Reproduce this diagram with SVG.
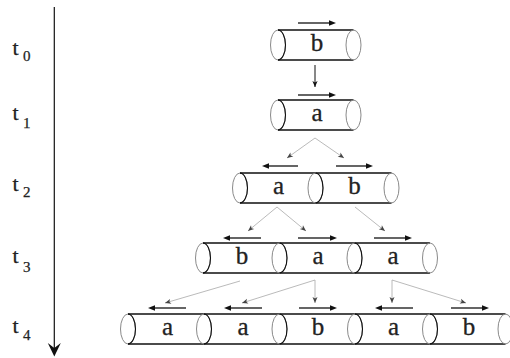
<svg xmlns="http://www.w3.org/2000/svg" width="510" height="358" viewBox="0 0 510 358">
<style>
.eg{fill:none;stroke:#8a8a8a;stroke-width:1}
.ek{fill:none;stroke:#111;stroke-width:1.1}
.body{fill:none;stroke:#111;stroke-width:1.3}
.dir{fill:none;stroke:#111;stroke-width:1.3;marker-end:url(#ba)}
.con{fill:none;stroke:#a8a8a8;stroke-width:0.8;marker-end:url(#ga)}
</style>
<defs>
<marker id="ba" viewBox="0 -3 8 6" refX="0" refY="0" markerWidth="8" markerHeight="6" markerUnits="userSpaceOnUse" orient="auto">
<path d="M0,-2.8 L7,0 L0,2.8 Z" fill="#111"/>
</marker>
<marker id="ga" viewBox="-7 -3 8 6" refX="0" refY="0" markerWidth="8" markerHeight="6" markerUnits="userSpaceOnUse" orient="auto">
<path d="M0,0 L-6,-2.5 L-4.5,0 L-6,2.5 Z" fill="#444"/>
</marker>
<marker id="ka" viewBox="-7 -3 8 6" refX="0" refY="0" markerWidth="8" markerHeight="6" markerUnits="userSpaceOnUse" orient="auto">
<path d="M0,0 L-6,-2.6 L-4.5,0 L-6,2.6 Z" fill="#111"/>
</marker>
</defs>

<g id="time-axis" font-family="'Liberation Serif', 'Times New Roman', serif" fill="#222" stroke="#222" stroke-width="0.25">
<line x1="54.3" y1="7" x2="54.3" y2="348" stroke="#111" stroke-width="1.2"/>
<path d="M54.3,356.5 L47.8,343 L54.3,348 L60.8,343 Z" fill="#111" stroke="none"/>
<text font-size="22" x="12.5" y="55">t</text><text font-size="15" x="23" y="60.5">0</text>
<text font-size="22" x="12.5" y="120">t</text><text font-size="15" x="23" y="128">1</text>
<text font-size="22" x="12.5" y="190.5">t</text><text font-size="15" x="23" y="197">2</text>
<text font-size="22" x="12.5" y="263">t</text><text font-size="15" x="23" y="272">3</text>
<text font-size="22" x="12.5" y="333">t</text><text font-size="15" x="23" y="340">4</text>
</g>

<g font-family="'Liberation Serif', 'Times New Roman', serif" font-size="25" fill="#222" text-anchor="middle">
<!-- row 0 -->
<g id="n0-b">
<ellipse class="eg" cx="278" cy="45" rx="7.5" ry="15"/>
<path class="ek" d="M278,30 A7.5,15 0 0 1 278,60"/>
<path class="body" d="M278,30 H353.5 M278,60 H353.5"/>
<ellipse class="eg" cx="353.5" cy="45" rx="7.5" ry="15"/>
<path class="dir" d="M298,23 H329"/>
<text x="317" y="51" stroke="#222" stroke-width="0.3">b</text>
</g>

<!-- row 1 -->
<g id="n1-a">
<ellipse class="eg" cx="278" cy="115" rx="7.5" ry="15"/>
<path class="ek" d="M278,100 A7.5,15 0 0 1 278,130"/>
<path class="body" d="M278,100 H353.5 M278,130 H353.5"/>
<ellipse class="eg" cx="353.5" cy="115" rx="7.5" ry="15"/>
<path class="dir" d="M298,95 H329"/>
<text x="317" y="121" stroke="#222" stroke-width="0.3">a</text>
</g>

<!-- row 2 -->
<g id="n2-a">
<ellipse class="eg" cx="240" cy="188" rx="7.5" ry="15"/>
<path class="ek" d="M240,173 A7.5,15 0 0 1 240,203"/>
<path class="body" d="M240,173 H315.5 M240,203 H315.5"/>
<path class="dir" d="M298,166 H269"/>
<text x="278.5" y="194" stroke="#222" stroke-width="0.3">a</text>
</g>
<g id="n2-b">
<ellipse class="eg" cx="315.5" cy="188" rx="7.5" ry="15"/>
<path class="ek" d="M315.5,173 A7.5,15 0 0 1 315.5,203"/>
<path class="body" d="M315.5,173 H391.5 M315.5,203 H391.5"/>
<ellipse class="eg" cx="391.5" cy="188" rx="7.5" ry="15"/>
<path class="dir" d="M336,166 H366"/>
<text x="354.5" y="194" stroke="#222" stroke-width="0.3">b</text>
</g>

<!-- row 3 -->
<g id="n3-b">
<ellipse class="eg" cx="203" cy="258" rx="7.5" ry="15"/>
<path class="ek" d="M203,243 A7.5,15 0 0 1 203,273"/>
<path class="body" d="M203,243 H279.5 M203,273 H279.5"/>
<path class="dir" d="M261,238 H230"/>
<text x="242" y="264" stroke="#222" stroke-width="0.3">b</text>
</g>
<g id="n3-a1">
<ellipse class="eg" cx="279.5" cy="258" rx="7.5" ry="15"/>
<path class="ek" d="M279.5,243 A7.5,15 0 0 1 279.5,273"/>
<path class="body" d="M279.5,243 H354.5 M279.5,273 H354.5"/>
<path class="dir" d="M298,238 H330"/>
<text x="318" y="264" stroke="#222" stroke-width="0.3">a</text>
</g>
<g id="n3-a2">
<ellipse class="eg" cx="354.5" cy="258" rx="7.5" ry="15"/>
<path class="ek" d="M354.5,243 A7.5,15 0 0 1 354.5,273"/>
<path class="body" d="M354.5,243 H430 M354.5,273 H430"/>
<ellipse class="eg" cx="430" cy="258" rx="7.5" ry="15"/>
<path class="dir" d="M374,238 H405"/>
<text x="393" y="264" stroke="#222" stroke-width="0.3">a</text>
</g>

<!-- row 4 -->
<g id="n4-a1">
<ellipse class="eg" cx="128" cy="329" rx="7.5" ry="15"/>
<path class="ek" d="M128,314 A7.5,15 0 0 1 128,344"/>
<path class="body" d="M128,314 H204 M128,344 H204"/>
<path class="dir" d="M186,308 H155"/>
<text x="167.5" y="335" stroke="#222" stroke-width="0.3">a</text>
</g>
<g id="n4-a2">
<ellipse class="eg" cx="204" cy="329" rx="7.5" ry="15"/>
<path class="ek" d="M204,314 A7.5,15 0 0 1 204,344"/>
<path class="body" d="M204,314 H279.5 M204,344 H279.5"/>
<path class="dir" d="M262,308 H231"/>
<text x="243" y="335" stroke="#222" stroke-width="0.3">a</text>
</g>
<g id="n4-b1">
<ellipse class="eg" cx="279.5" cy="329" rx="7.5" ry="15"/>
<path class="ek" d="M279.5,314 A7.5,15 0 0 1 279.5,344"/>
<path class="body" d="M279.5,314 H355 M279.5,344 H355"/>
<path class="dir" d="M299,308 H330"/>
<text x="318" y="335" stroke="#222" stroke-width="0.3">b</text>
</g>
<g id="n4-a3">
<ellipse class="eg" cx="355" cy="329" rx="7.5" ry="15"/>
<path class="ek" d="M355,314 A7.5,15 0 0 1 355,344"/>
<path class="body" d="M355,314 H430 M355,344 H430"/>
<path class="dir" d="M413,308 H382"/>
<text x="393.5" y="335" stroke="#222" stroke-width="0.3">a</text>
</g>
<g id="n4-b2">
<ellipse class="eg" cx="430" cy="329" rx="7.5" ry="15"/>
<path class="ek" d="M430,314 A7.5,15 0 0 1 430,344"/>
<path class="body" d="M430,314 H505.5 M430,344 H505.5"/>
<ellipse class="eg" cx="505.5" cy="329" rx="7.5" ry="15"/>
<path class="dir" d="M451,308 H482"/>
<text x="469" y="335" stroke="#222" stroke-width="0.3">b</text>
</g>
</g>

<g id="connectors">
<path d="M315,65 V87" fill="none" stroke="#111" stroke-width="1" marker-end="url(#ka)"/>
<path class="con" d="M315,138 L287,158"/>
<path class="con" d="M315,138 L344,158"/>
<path class="con" d="M277,207 L248,231"/>
<path class="con" d="M277,207 L306,231"/>
<path class="con" d="M355,207 L385,231"/>
<path class="con" d="M240,281 L165,303"/>
<path class="con" d="M315,280 L242,303"/>
<path class="con" d="M315,280 L315,303"/>
<path class="con" d="M392,280 L392,303"/>
<path class="con" d="M392,280 L466,303"/>
</g>
</svg>
